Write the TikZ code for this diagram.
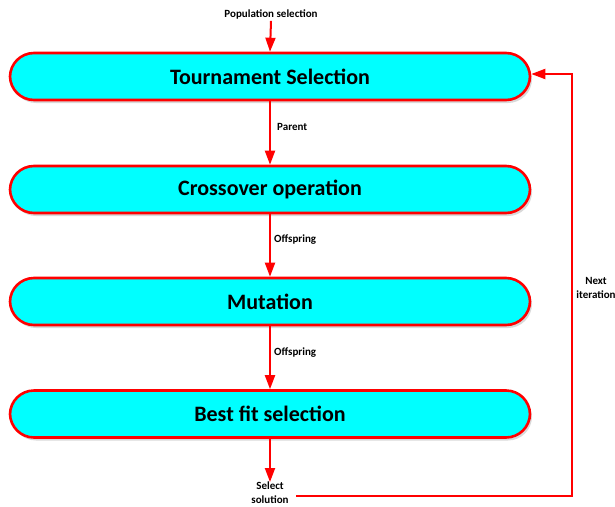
\documentclass[tikz,border=0pt]{standalone}
\usepackage{fontspec}
\setmainfont{Carlito}
\usetikzlibrary{arrows.meta,shadows}
\definecolor{boxcyan}{RGB}{0,255,255}
\definecolor{linered}{RGB}{255,0,0}
\begin{document}
\begin{tikzpicture}[x=1pt,y=-1pt,
  stagebox/.style={draw=linered, line width=2.6pt, fill=boxcyan, rounded corners=24pt,
    minimum width=520pt, minimum height=47pt, inner sep=0pt,
    font=\fontsize{22}{24}\selectfont\bfseries,
    drop shadow={shadow xshift=2pt, shadow yshift=-3pt, fill=black!25, opacity=0.6}},
  flow/.style={draw=linered, line width=2pt, -{Triangle[length=14pt,width=10pt]}},
  lbl/.style={font=\fontsize{11}{14}\selectfont\bfseries, inner sep=0pt, align=center}]
\useasboundingbox (0,0) rectangle (615,506);
\node[stagebox] (b1) at (270,76.5) {Tournament Selection};
\node[stagebox] (b2) at (270,189.5) {Crossover operation};
\node[stagebox] (b3) at (270,301.5) {Mutation};
\node[stagebox] (b4) at (270,414) {Best fit selection};
\node[lbl] (pop) at (271,14) {Population selection};
\node[lbl, anchor=west] (par) at (277,127) {Parent};
\node[lbl, anchor=west] (off1) at (274,240) {Offspring};
\node[lbl, anchor=west] (off2) at (274,353) {Offspring};
\node[lbl, anchor=north] (sel) at (270,482) {Select\\solution};
\node[lbl] (nxt) at (596,288) {Next\\iteration};
\coordinate (c1) at (572,496);
\coordinate (c2) at (572,74);
\coordinate (s0) at (296,496);
\draw[flow] (pop.south) ++(0,2) -- (b1.north);
\draw[flow] (b1.south) -- (b2.north);
\draw[flow] (b2.south) -- (b3.north);
\draw[flow] (b3.south) -- (b4.north);
\draw[flow] (b4.south) -- (sel.north);
\draw[flow] (s0) -- (c1) -- (c2) -- (b1.east |- c2);
\end{tikzpicture}
\end{document}
